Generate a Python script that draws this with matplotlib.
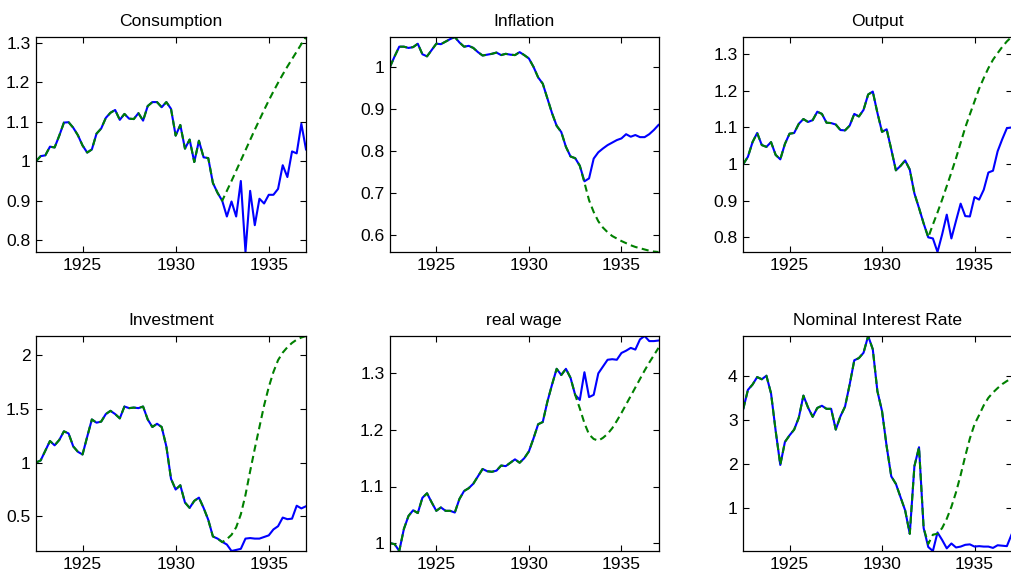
import numpy as np
import matplotlib
matplotlib.use("Agg")
import matplotlib.pyplot as plt
from matplotlib.ticker import FormatStrFormatter, FixedLocator

plt.rcParams['font.family'] = ['Liberation Sans', 'DejaVu Sans']

# Quarterly dates, 1922Q3 .. 1937Q1
dates = 1922.5 + 0.25 * np.arange(59)

# ---- observed paths (solid blue) ----
consumption = [1.000, 1.013, 1.015, 1.037, 1.035, 1.065, 1.098, 1.099, 1.085, 1.066,
               1.040, 1.022, 1.030, 1.070, 1.083, 1.110, 1.123, 1.130, 1.105, 1.120,
               1.108, 1.107, 1.122, 1.103, 1.140, 1.150, 1.150, 1.137, 1.150, 1.133,
               1.065, 1.092, 1.032, 1.055, 0.998, 1.052, 1.010, 1.008, 0.945, 0.920,
               0.900, 0.860, 0.898, 0.860, 0.950, 0.770, 0.925, 0.838, 0.905, 0.893,
               0.915, 0.915, 0.930, 0.990, 0.960, 1.025, 1.020, 1.095, 1.030]
inflation = [1.000, 1.025, 1.048, 1.048, 1.045, 1.047, 1.055, 1.030, 1.025, 1.040,
             1.055, 1.054, 1.060, 1.066, 1.071, 1.058, 1.048, 1.050, 1.045, 1.035,
             1.027, 1.029, 1.031, 1.034, 1.028, 1.031, 1.029, 1.028, 1.035, 1.028,
             1.020, 1.000, 0.975, 0.960, 0.925, 0.890, 0.860, 0.845, 0.810, 0.787,
             0.783, 0.765, 0.728, 0.735, 0.782, 0.797, 0.806, 0.814, 0.820, 0.826,
             0.830, 0.840, 0.834, 0.838, 0.833, 0.833, 0.840, 0.850, 0.862]
output = [1.000, 1.020, 1.060, 1.085, 1.052, 1.047, 1.060, 1.025, 1.013, 1.055,
          1.083, 1.085, 1.110, 1.123, 1.115, 1.120, 1.143, 1.137, 1.113, 1.112,
          1.108, 1.093, 1.092, 1.105, 1.137, 1.130, 1.148, 1.190, 1.198, 1.140,
          1.088, 1.095, 1.040, 0.983, 0.995, 1.010, 0.985, 0.920, 0.880, 0.838,
          0.800, 0.797, 0.760, 0.808, 0.862, 0.797, 0.845, 0.892, 0.858, 0.857,
          0.910, 0.903, 0.930, 0.977, 0.982, 1.035, 1.068, 1.098, 1.100]
investment = [1.000, 1.020, 1.110, 1.200, 1.160, 1.210, 1.290, 1.270, 1.150, 1.100,
              1.075, 1.240, 1.400, 1.370, 1.380, 1.450, 1.480, 1.450, 1.410, 1.520,
              1.505, 1.510, 1.505, 1.520, 1.400, 1.330, 1.360, 1.330, 1.150, 0.850,
              0.750, 0.790, 0.630, 0.580, 0.645, 0.675, 0.580, 0.470, 0.315, 0.295,
              0.265, 0.240, 0.180, 0.190, 0.200, 0.295, 0.300, 0.295, 0.295, 0.310,
              0.325, 0.380, 0.410, 0.490, 0.475, 0.480, 0.600, 0.575, 0.595]
real_wage = [1.000, 0.998, 0.986, 1.025, 1.048, 1.058, 1.053, 1.080, 1.088, 1.072,
             1.057, 1.063, 1.057, 1.057, 1.054, 1.078, 1.092, 1.097, 1.105, 1.118,
             1.131, 1.127, 1.126, 1.128, 1.137, 1.136, 1.142, 1.148, 1.142, 1.150,
             1.162, 1.185, 1.210, 1.214, 1.250, 1.280, 1.308, 1.297, 1.308, 1.292,
             1.262, 1.253, 1.302, 1.258, 1.262, 1.300, 1.312, 1.324, 1.325, 1.324,
             1.336, 1.340, 1.345, 1.342, 1.360, 1.366, 1.357, 1.357, 1.358]
interest = [3.25, 3.68, 3.80, 3.97, 3.92, 4.00, 3.60, 2.75, 1.98, 2.50,
            2.65, 2.78, 3.05, 3.55, 3.28, 3.07, 3.27, 3.32, 3.25, 3.25,
            2.78, 3.08, 3.30, 3.80, 4.35, 4.40, 4.52, 4.90, 4.60, 3.65,
            3.20, 2.40, 1.72, 1.55, 1.25, 0.95, 0.42, 1.95, 2.38, 0.55,
            0.12, 0.03, 0.45, 0.28, 0.09, 0.20, 0.11, 0.13, 0.17, 0.18,
            0.13, 0.14, 0.13, 0.13, 0.10, 0.16, 0.15, 0.14, 0.40]

# ---- counterfactual paths (dashed green), from the quarter where they branch off ----
consumption_cf_start = 40
consumption_cf = [0.900, 0.925, 0.950, 0.976, 1.002, 1.028, 1.054, 1.080, 1.105, 1.130,
                  1.154, 1.177, 1.199, 1.220, 1.240, 1.259, 1.278, 1.297, 1.315]
inflation_cf_start = 41
inflation_cf = [0.765, 0.725, 0.683, 0.655, 0.633, 0.618, 0.607, 0.598, 0.592, 0.586,
                0.581, 0.576, 0.572, 0.569, 0.566, 0.563, 0.561, 0.560]
output_cf_start = 40
output_cf = [0.800, 0.835, 0.868, 0.903, 0.940, 0.977, 1.016, 1.058, 1.100, 1.136,
             1.171, 1.206, 1.235, 1.262, 1.285, 1.303, 1.320, 1.335, 1.347]
investment_cf_start = 40
investment_cf = [0.262, 0.290, 0.330, 0.400, 0.520, 0.700, 0.920, 1.130, 1.330, 1.530,
                 1.700, 1.840, 1.950, 2.020, 2.070, 2.110, 2.140, 2.160, 2.174]
real_wage_cf_start = 40
real_wage_cf = [1.262, 1.238, 1.212, 1.192, 1.184, 1.181, 1.186, 1.193, 1.203, 1.216,
                1.230, 1.245, 1.260, 1.275, 1.290, 1.305, 1.319, 1.332, 1.345]
interest_cf_start = 40
interest_cf = [0.19, 0.40, 0.42, 0.55, 0.76, 1.03, 1.36, 1.75, 2.18, 2.58,
               2.90, 3.11, 3.33, 3.50, 3.62, 3.72, 3.81, 3.88, 3.94]

titles = ['Consumption', 'Inflation', 'Output',
          'Investment', 'real wage', 'Nominal Interest Rate']
actual_series = [consumption, inflation, output, investment, real_wage, interest]
cf_series = [(consumption_cf_start, consumption_cf), (inflation_cf_start, inflation_cf),
             (output_cf_start, output_cf), (investment_cf_start, investment_cf),
             (real_wage_cf_start, real_wage_cf), (interest_cf_start, interest_cf)]
yticks = [[0.8, 0.9, 1.0, 1.1, 1.2, 1.3],
          [0.6, 0.7, 0.8, 0.9, 1.0],
          [0.8, 0.9, 1.0, 1.1, 1.2, 1.3],
          [0.5, 1.0, 1.5, 2.0],
          [1.0, 1.1, 1.2, 1.3],
          [1, 2, 3, 4]]
xticks = [1925, 1930, 1935]

W, H = 1011, 574
fig = plt.figure(figsize=(W / 100, H / 100), dpi=100)

# axes boxes in pixels: (left, right) per column, (top, bottom) per row
col_x = [(36, 306), (390, 658.5), (743.3, 1011.5)]
row_y = [(37, 252), (336, 551)]

blue = (0, 0, 1)
green = (0, 0.5, 0)

for k in range(6):
    r, c = divmod(k, 3)
    x0, x1 = col_x[c]
    yt, yb = row_y[r]
    ax = fig.add_axes([x0 / W, 1 - yb / H, (x1 - x0) / W, (yb - yt) / H])
    actual = np.array(actual_series[k])
    start, cf = cf_series[k]
    path = np.concatenate([actual[:start], np.array(cf)])
    ax.plot(dates, actual, color=blue, lw=1.5)
    ax.plot(dates, path, color=green, lw=1.5, linestyle=(0, (3.4, 2.1)))
    lo = min(actual.min(), path.min())
    hi = max(actual.max(), path.max())
    ax.set_xlim(dates[0], dates[-1])
    ax.set_ylim(lo, hi)
    ax.xaxis.set_major_locator(FixedLocator(xticks))
    ax.yaxis.set_major_locator(FixedLocator(yticks[k]))
    ax.yaxis.set_major_formatter(FormatStrFormatter('%g'))
    ax.tick_params(direction='in', length=4, width=0.8, top=True, right=True,
                   labelsize=12.6, pad=4, colors='black')
    for s in ax.spines.values():
        s.set_linewidth(0.9)
    ax.set_title(titles[k], fontsize=12.6, pad=8)

fig.savefig('out.png', dpi=100)
